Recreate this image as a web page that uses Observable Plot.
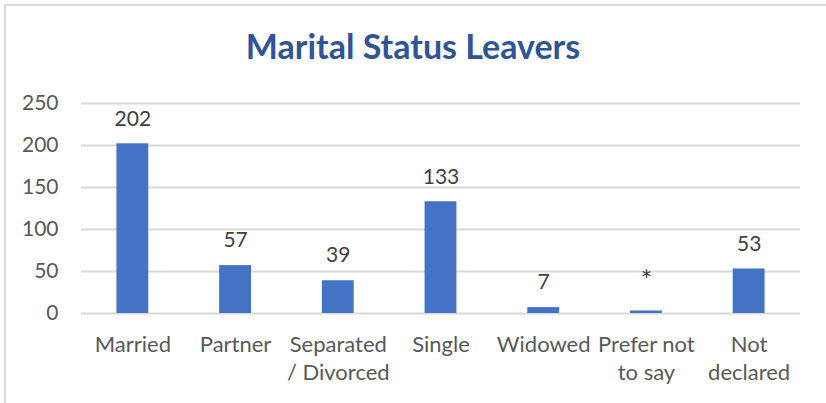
<!DOCTYPE html>
<html>
<head>
<meta charset="utf-8">
<script src="https://cdn.jsdelivr.net/npm/d3@7"></script>
<script src="https://cdn.jsdelivr.net/npm/@observablehq/plot@0.6"></script>
<style>
  html, body { margin: 0; padding: 0; background: #fff; }
  #wrap { position: relative; width: 826px; height: 403px; overflow: hidden; }
  #frame { position: absolute; left: 4px; top: 4px; right: -10px; bottom: -10px;
           border-left: 2px solid #d9d9d9; border-top: 2px solid #d9d9d9; }
  #title { position: absolute; left: 0; width: 826px; top: 26px; text-align: center;
           font-family: Lato, sans-serif; font-weight: bold; font-size: 34px; color: #2F5597; line-height: 40px; }
  #chart { position: absolute; left: 0; top: 0; }
</style>
</head>
<body>
<div id="wrap">
  <div id="frame"></div>
  <div id="chart"></div>
  <div id="title">Marital Status Leavers</div>
</div>
<script>
const categories = ["Married", "Partner", "Separated\n/ Divorced", "Single", "Widowed", "Prefer not\nto say", "Not\ndeclared"];
const values = [202, 57, 39, 133, 7, 3, 53];
const valueLabels = ["202", "57", "39", "133", "7", "*", "53"];
const yTicks = [0, 50, 100, 150, 200, 250];

const data = categories.map((c, i) => ({category: c, value: values[i], label: valueLabels[i]}));

const chart = Plot.plot({
  width: 826,
  height: 403,
  marginLeft: 81,
  marginRight: 26,
  marginTop: 103,
  marginBottom: 90,
  style: {fontFamily: "Lato, sans-serif", fontSize: "21px", background: "transparent"},
  x: {domain: categories, paddingInner: 0.69, paddingOuter: 0.345, round: false, label: null},
  y: {domain: [0, 250], label: null},
  marks: [
    Plot.gridY(yTicks, {stroke: "#d9d9d9", strokeOpacity: 1, strokeWidth: 2}),
    Plot.barY(data, {x: "category", y: "value", fill: "#4472C4"}),
    Plot.text(data.filter(d => d.label !== "*"), {x: "category", y: "value", text: "label", dy: -25, fill: "#404040", fontSize: 21}),
    Plot.text(data.filter(d => d.label === "*"), {x: "category", y: "value", text: "label", dy: -30, fill: "#404040", fontSize: 27}),
    Plot.axisY(yTicks, {tickSize: 0, tickPadding: 23, fill: "#595959", fontSize: 21, label: null}),
    Plot.axisX({tickSize: 0, tickPadding: 19, fill: "#595959", fontSize: 22, lineHeight: 1.27, label: null})
  ]
});
document.getElementById("chart").appendChild(chart);
</script>
</body>
</html>
